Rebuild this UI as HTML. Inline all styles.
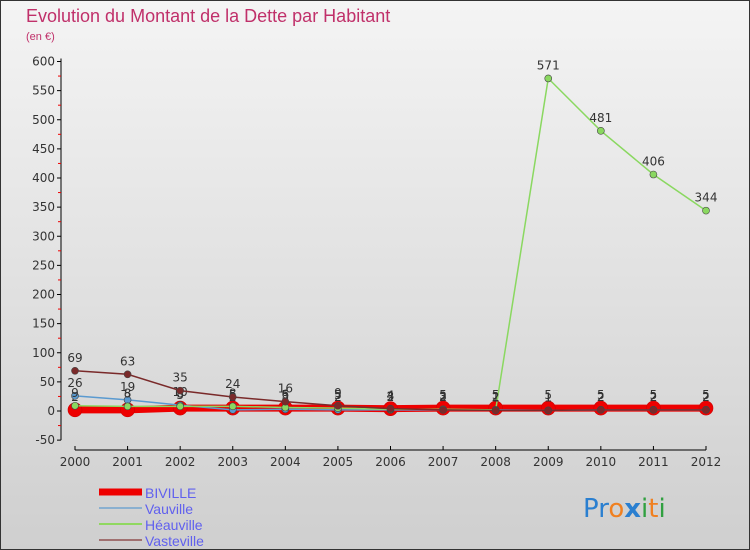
<!DOCTYPE html>
<html><head><meta charset="utf-8"><style>
body{margin:0;}
#wrap{width:750px;height:550px;position:relative;overflow:hidden;background:linear-gradient(#f4f4f4,#cfcfcf);font-family:"DejaVu Sans","Liberation Sans",sans-serif;}
</style></head><body>
<div id="wrap">
<svg id="svg" width="750" height="550" style="position:absolute;left:0;top:0">
<rect x="0.5" y="0.5" width="749" height="549" fill="none" stroke="#333"/>
<text x="26" y="22" font-size="18" fill="#c0306a" font-family="Liberation Sans, sans-serif">Evolution du Montant de la Dette par Habitant</text>
<text x="26" y="40" font-size="11" fill="#c0306a" font-family="Liberation Sans, sans-serif">(en €)</text>
<g id="axes"></g><g id="series"></g><g id="legend"></g>
<text x="583" y="517" font-size="26"><tspan fill="#2a7fd0">Pr</tspan><tspan fill="#f08020">o</tspan><tspan fill="#2a7fd0" font-weight="bold">x</tspan><tspan fill="#30a040">i</tspan><tspan fill="#f08020">t</tspan><tspan fill="#30a040">i</tspan></text>
</svg></div>
<script>
const years=[2000,2001,2002,2003,2004,2005,2006,2007,2008,2009,2010,2011,2012];
const yTicks=[-50,0,50,100,150,200,250,300,350,400,450,500,550,600];
const biville=[2,2,5,5,5,5,4,5,5,5,5,5,5];
const vauville=[26,19,10,2,3,2,2,2,2,1,2,2,2];
const heauville=[9,8,8,8,6,5,3,3,2,571,481,406,344];
const vasteville=[69,63,35,24,16,9,4,2,1,1,2,2,2];
const NS="http://www.w3.org/2000/svg";
const X=i=>75+i*(706-75)/(years.length-1);
const Y=v=>411-v*(349.5/600);
function mk(tag,attrs,parent,txt){const e=document.createElementNS(NS,tag);for(const k in attrs)e.setAttribute(k,attrs[k]);if(txt!==undefined)e.textContent=txt;parent.appendChild(e);return e;}
const ax=document.getElementById('axes');
let l=mk('line',{x1:61,y1:Y(600)-3,x2:61,y2:Y(-50),stroke:'#000'},ax);


yTicks.forEach(v=>{
 let t=mk('line',{x1:57,x2:61,y1:Y(v),y2:Y(v),stroke:'#000'},ax);
 
 
 if(v<600){
 let m=mk('line',{x1:58,x2:61,y1:Y(v+25),y2:Y(v+25),stroke:'#e00'},ax);
 
 
 }
 let tx=mk('text',{x:55,y:Y(v)+4,'font-size':12,'text-anchor':'end',fill:'#333'},ax,v);
 
 
});
l=mk('line',{x1:75,y1:450,x2:706,y2:450,stroke:'#000'},ax);


years.forEach((y,i)=>{
 let t=mk('line',{x1:X(i),x2:X(i),y1:446,y2:450,stroke:'#000'},ax);
 
 
 let tx=mk('text',{x:X(i),y:466,'font-size':12,'text-anchor':'middle',fill:'#333'},ax,y);
 
 
});
const series=[
 {name:'biville',data:biville,color:'#ee0000',w:7,r:7},
 {name:'vauville',data:vauville,color:'#5a9ad0',w:1.5,r:3.5},
 {name:'heauville',data:heauville,color:'#8ad860',w:1.5,r:3.5},
 {name:'vasteville',data:vasteville,color:'#7a2a2a',w:1.5,r:3.5}];
const sg=document.getElementById('series');
series.forEach(s=>{
 const g=mk('g',{},sg);
 
 
 const p=mk('polyline',{points:s.data.map((v,i)=>X(i)+','+Y(v)).join(' '),fill:'none',stroke:s.color,'stroke-width':s.w},g);
 
 
 s.data.forEach((v,i)=>{
  const c=mk('circle',{cx:X(i),cy:Y(v),r:s.r,fill:s.color,stroke:s.name==='biville'?'#c00':'#444','stroke-width':0.6},g);
  
  
  const t=mk('text',{x:X(i),y:Y(v)-9,'font-size':12,'text-anchor':'middle',fill:'#333'},g,v);
  
  
 });
});
const lg=document.getElementById('legend');
const leg=[['BIVILLE','#ee0000',7],['Vauville','#8ab0d0',2],['Héauville','#90d860',2],['Vasteville','#a07070',2]];
leg.forEach((e,i)=>{
 const y=492+i*16;
 const ln=mk('line',{x1:99,x2:142,y1:y,y2:y,stroke:e[1],'stroke-width':e[2]},lg);
 
 
 const t=mk('text',{x:145,y:y+6,'font-size':14,fill:'#6060ee','font-family':'Liberation Sans, sans-serif'},lg,e[0]);
 
 
});
</script></body></html>
